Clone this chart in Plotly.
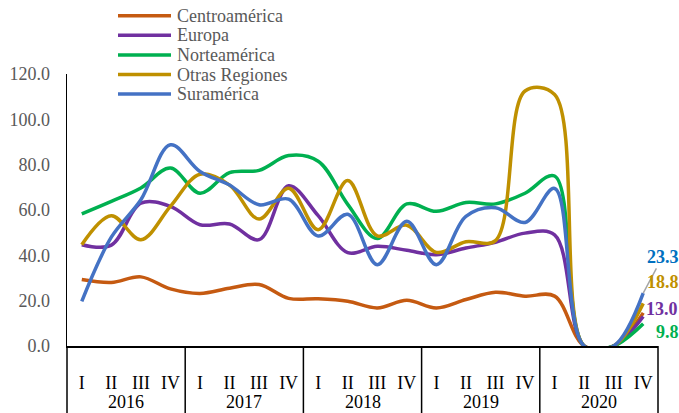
import plotly.graph_objects as go

# ---------------- data ----------------
years = ["2016", "2017", "2018", "2019", "2020"]
quarters = ["I", "II", "III", "IV"]
series_names = ["Centroamérica", "Europa", "Norteamérica", "Otras Regiones", "Suramérica"]

centroamerica = [29.3, 28.0, 30.5, 25.2, 23.2, 25.5, 27.1, 21.0, 20.8, 19.7, 16.8, 20.2,
                 16.8, 20.5, 23.7, 22.0, 22.0, 0.0, 0.0, 14.6]
europa = [44.7, 44.5, 63.0, 61.6, 53.5, 53.8, 46.9, 70.7, 57.5, 41.2, 44.0, 42.2,
          40.3, 43.2, 45.8, 49.8, 49.0, 0.0, 0.0, 13.0]
norteamerica = [58.3, 63.8, 69.7, 78.5, 67.4, 76.5, 77.5, 84.0, 81.5, 62.5, 47.4, 62.7,
                59.4, 63.3, 62.7, 67.4, 75.0, 0.0, 0.0, 9.8]
otras_regiones = [44.7, 57.5, 46.9, 61.6, 75.8, 71.0, 56.0, 69.6, 51.3, 73.0, 48.6, 53.3,
                  41.3, 46.0, 46.5, 112.5, 111.0, 0.0, 0.0, 18.8]
suramerica = [19.7, 48.0, 64.5, 88.8, 77.0, 71.0, 62.3, 64.8, 48.5, 58.1, 35.9, 55.0,
              35.9, 57.2, 61.0, 54.5, 69.5, 0.0, 0.0, 23.3]

series_values = [centroamerica, europa, norteamerica, otras_regiones, suramerica]
line_colors = ["#C55A11", "#7030A0", "#00B050", "#BF9000", "#4472C4"]

# end-of-line value labels (series index -> label colour)
label_series = [4, 3, 1, 2]
label_colors = ["#0070C0", "#BF9000", "#7030A0", "#00B050"]

# ---------------- geometry / style ----------------
W, H = 679, 413
# plot area in window pixels: x 67..658, y 74..346
ML, MR, MT, MB = 67, W - 658, 74, H - 346
PW, PH = W - ML - MR, H - MT - MB
FONT = "Liberation Serif"

n = len(years) * len(quarters)
x_idx = list(range(n))
quarter_labels = quarters * len(years)


def px_to_paper_x(px):
    return (px - ML) / PW


def px_to_paper_y(py):
    return (H - MB - py) / PH


fig = go.Figure()
for name, vals, col in zip(series_names, series_values, line_colors):
    fig.add_trace(go.Scatter(
        x=x_idx, y=vals, name=name, mode="lines",
        line=dict(color=col, width=3.5, shape="spline", smoothing=1.0),
        showlegend=False, hoverinfo="skip"))

shapes = []
annotations = []

# category dividers (multi-level axis box)
for k in range(len(years) + 1):
    xp = k * len(quarters) / n
    shapes.append(dict(type="line", xref="paper", yref="paper", x0=xp, x1=xp,
                       y0=0, y1=-0.4, line=dict(color="black", width=1.5)))

# year labels
for j, yr in enumerate(years):
    xc = j * len(quarters) + (len(quarters) - 1) / 2
    annotations.append(dict(x=xc, y=0, xref="x", yref="paper", text=yr,
                            showarrow=False, yshift=-56, yanchor="middle",
                            font=dict(family=FONT, size=18, color="black")))

# custom legend
for i, (name, col) in enumerate(zip(series_names, line_colors)):
    ypx = 15.7 + 19.6 * i
    yp = px_to_paper_y(ypx)
    shapes.append(dict(type="line", xref="paper", yref="paper",
                       x0=px_to_paper_x(118), x1=px_to_paper_x(171), y0=yp, y1=yp,
                       line=dict(color=col, width=3.5)))
    annotations.append(dict(x=px_to_paper_x(175), y=yp, xref="paper", yref="paper",
                            text=name, showarrow=False, xanchor="left", yanchor="middle",
                            font=dict(family=FONT, size=18, color="#595959")))

# end value labels
offsets = [(19.3, -36.3), (20, -21), (19, -8), (24, 8.5)]
for si, col, (dx, dy) in zip(label_series, label_colors, offsets):
    v = series_values[si][-1]
    if si == 4:
        annotations.append(dict(x=x_idx[-1], y=v, xref="x", yref="y",
                                text="<b>%.1f</b>" % v, showarrow=True,
                                ax=dx, ay=dy, axref="pixel", ayref="pixel",
                                arrowhead=0, arrowwidth=1.5, arrowcolor="#A6A6A6",
                                standoff=0,
                                font=dict(family=FONT, size=18, color=col)))
    else:
        annotations.append(dict(x=x_idx[-1], y=v, xref="x", yref="y",
                                text="<b>%.1f</b>" % v, showarrow=False,
                                xshift=dx, yshift=-dy,
                                font=dict(family=FONT, size=18, color=col)))

fig.update_layout(
    width=W, height=H,
    margin=dict(l=ML, r=MR, t=MT, b=MB, pad=0, autoexpand=False),
    paper_bgcolor="white", plot_bgcolor="white",
    font=dict(family=FONT, size=18),
    shapes=shapes, annotations=annotations,
    xaxis=dict(range=[-0.5, n - 0.5], tickmode="array", tickvals=x_idx,
               ticktext=quarter_labels, showline=True, linecolor="black", linewidth=1.5,
               showgrid=False, zeroline=False, ticks="", automargin=False,
               tickfont=dict(family=FONT, size=18, color="black"),
               ticklabelstandoff=20, fixedrange=True),
    yaxis=dict(range=[0, 120], dtick=20, tick0=0, tickformat=".1f",
               showline=True, linecolor="black", linewidth=1.5,
               showgrid=False, zeroline=False, ticks="", automargin=False,
               tickfont=dict(family=FONT, size=18, color="#595959"),
               ticklabelstandoff=12, fixedrange=True),
)

# the page body has a default 8px margin; remove it so the figure fills the window
fig.write_html("out.html",
               config={"displayModeBar": False, "staticPlot": True},
               post_script="document.body.style.margin='0px';"
                           "document.body.style.overflow='hidden';")
